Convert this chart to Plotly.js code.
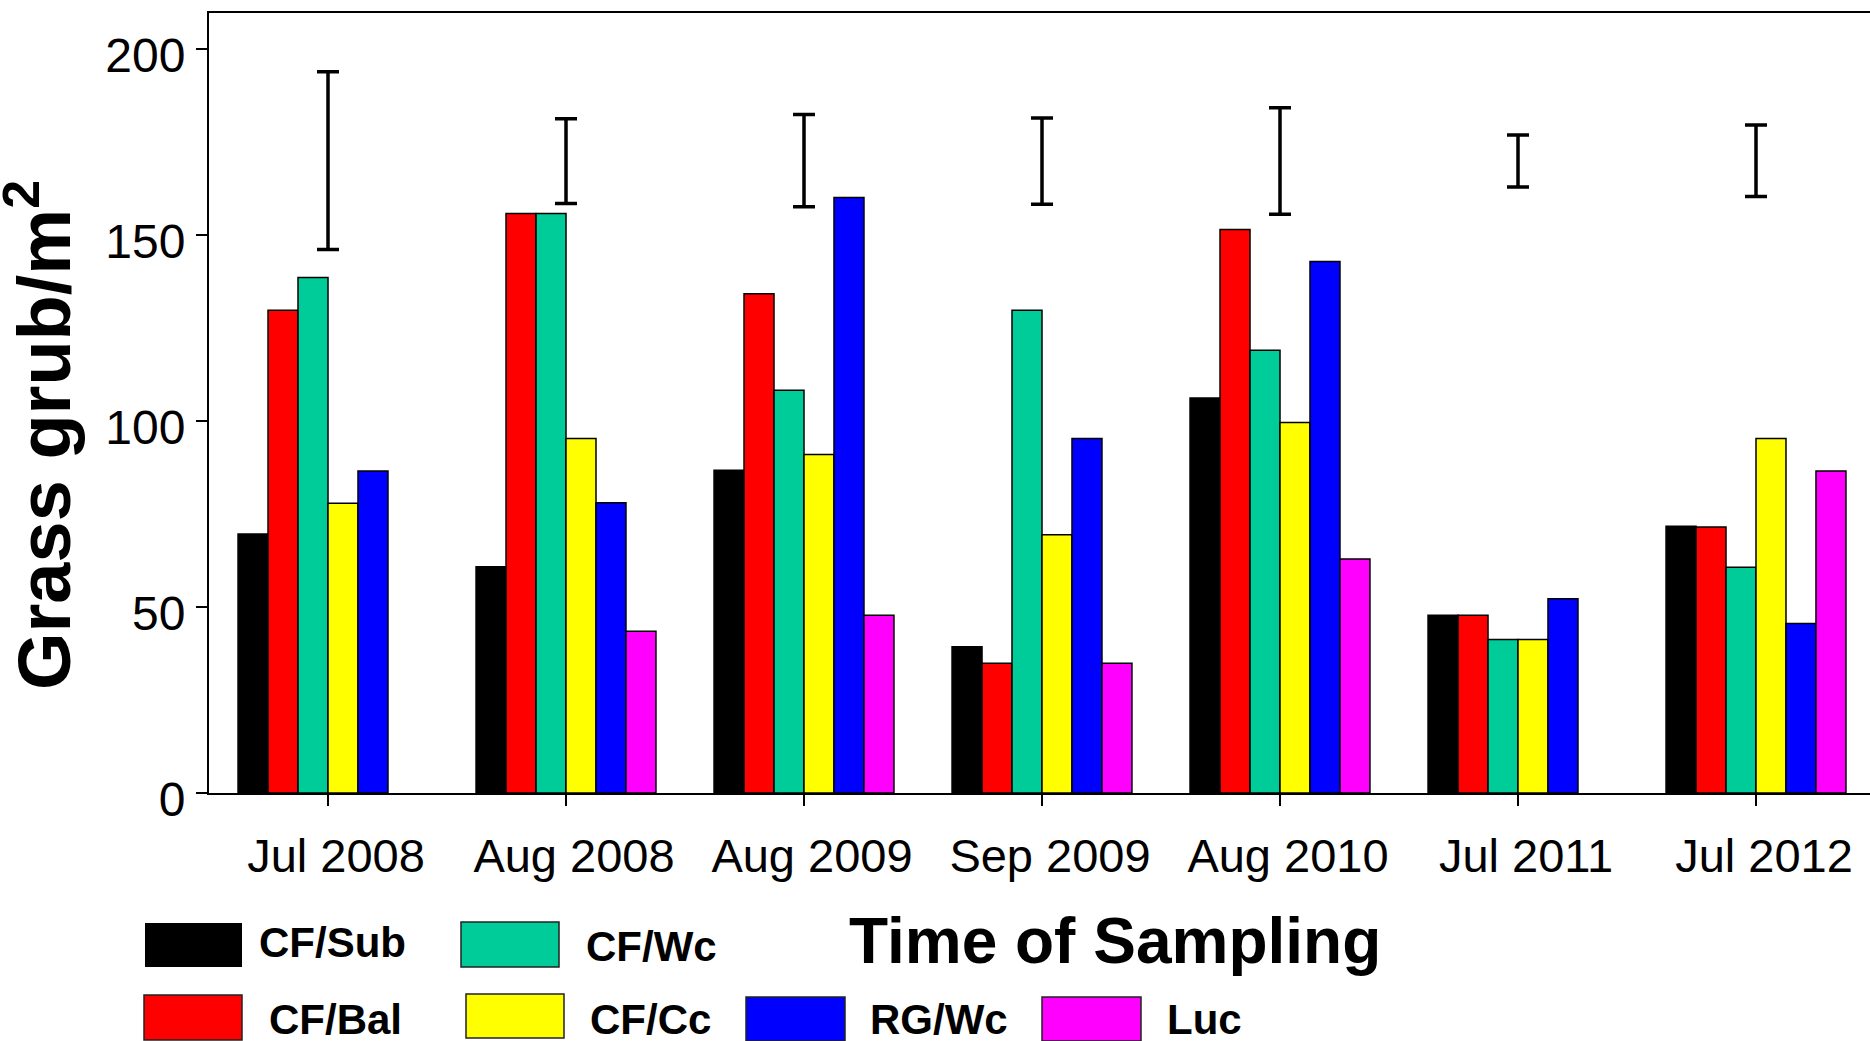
<!DOCTYPE html>
<html>
<head>
<meta charset="utf-8">
<script src="https://cdn.plot.ly/plotly-3.0.1.min.js"></script>
<style>html,body{margin:0;padding:0;background:#fff;}#chart{width:1870px;height:1041px;}</style>
</head>
<body>
<div id="chart"></div>
<script>
// ---- data ----
const categories = ['Jul 2008','Aug 2008','Aug 2009','Sep 2009','Aug 2010','Jul 2011','Jul 2012'];
const seriesNames = ['CF/Sub','CF/Bal','CF/Wc','CF/Cc','RG/Wc','Luc'];
const cfSub = [69.6, 60.8, 86.8, 39.3, 106.2, 47.8, 71.7];
const cfBal = [129.8, 155.8, 134.2, 34.9, 151.5, 47.8, 71.5];
const cfWc  = [138.6, 155.8, 108.3, 129.8, 119.0, 41.3, 60.7];
const cfCc  = [77.9, 95.3, 91.0, 69.4, 99.6, 41.3, 95.3];
const rgWc  = [86.6, 78.0, 160.1, 95.3, 142.9, 52.2, 45.6];
const luc   = [null, 43.5, 47.8, 34.9, 62.9, null, 86.6];
const lsdMid  = [170, 169.9, 170, 169.9, 169.9, 169.9, 170];
const lsdHalf = [23.9, 11.4, 12.4, 11.6, 14.3, 7.0, 9.6];
const yTickVals = [0, 50, 100, 150, 200];

// ---- styling ----
const colors = ['#000000','#ff0000','#00cc99','#ffff00','#0000ff','#ff00ff'];
const seriesValues = [cfSub, cfBal, cfWc, cfCc, rgWc, luc];
const FONT = '"Liberation Sans", Arial, Helvetica, sans-serif';

// plot area in pixels
const L = 209, T = 13, R = 1870, B = 793;
const pxX = x => (x - L) / (R - L);
const pxY = y => (B - y) / (B - T);

const traces = seriesValues.map((vals, i) => ({
  type: 'bar',
  name: seriesNames[i],
  x: categories,
  y: vals,
  marker: {color: colors[i], line: {color: '#000', width: 1.5}},
  showlegend: false,
  hoverinfo: 'x+y+name'
}));

traces.push({
  type: 'scatter',
  mode: 'markers',
  x: categories,
  y: lsdMid,
  marker: {size: 1, color: 'rgba(0,0,0,0)'},
  error_y: {type: 'data', array: lsdHalf, visible: true, color: '#000', thickness: 3.5, width: 11},
  showlegend: false,
  hoverinfo: 'skip'
});

// legend (custom, two rows) positions in pixels
const legendItems = [
  {i: 0, box: [145, 923, 242, 967], tx: 257, ty: 942},
  {i: 2, box: [461, 922, 559, 967], tx: 584, ty: 946},
  {i: 1, box: [144, 995, 242, 1040], tx: 267, ty: 1019},
  {i: 3, box: [466, 994, 564, 1038], tx: 588, ty: 1019},
  {i: 4, box: [746, 997, 845, 1041], tx: 868, ty: 1019},
  {i: 5, box: [1042, 997, 1141, 1041], tx: 1165, ty: 1019}
];
const shapes = [];
const annotations = [];
legendItems.forEach(it => {
  shapes.push({
    type: 'rect', xref: 'paper', yref: 'paper',
    x0: pxX(it.box[0]), x1: pxX(it.box[2]), y0: pxY(it.box[3]), y1: pxY(it.box[1]),
    fillcolor: colors[it.i], line: {color: '#222', width: it.i === 0 ? 0 : 1.5}
  });
  annotations.push({
    xref: 'paper', yref: 'paper', x: pxX(it.tx), y: pxY(it.ty),
    xanchor: 'left', yanchor: 'middle', showarrow: false,
    text: '<b>' + seriesNames[it.i] + '</b>',
    font: {family: FONT, size: 42, color: '#000'}
  });
});

// axis titles as annotations
annotations.push({
  xref: 'paper', yref: 'paper', x: pxX(39), y: pxY(435),
  xanchor: 'center', yanchor: 'middle', textangle: -90, showarrow: false,
  text: '<b>Grass grub/m<sup>2</sup></b>',
  font: {family: FONT, size: 74, color: '#000'}
});
annotations.push({
  xref: 'paper', yref: 'paper', x: pxX(1115), y: pxY(941),
  xanchor: 'center', yanchor: 'middle', showarrow: false,
  text: '<b>Time of Sampling</b>',
  font: {family: FONT, size: 64, color: '#000'}
});

const layout = {
  width: 1870, height: 1041,
  margin: {l: L, r: 1870 - R, t: T, b: 1041 - B, pad: 0},
  paper_bgcolor: '#fff', plot_bgcolor: '#fff',
  barmode: 'group', bargap: 0.244, bargroupgap: 0,
  showlegend: false,
  font: {family: FONT, color: '#000'},
  xaxis: {
    type: 'category',
    range: [-0.5, -0.5 + (R - L) / 238],
    showline: true, linecolor: '#000', linewidth: 2, mirror: true,
    ticks: 'outside', ticklen: 11, tickwidth: 2, tickcolor: '#000',
    tickfont: {family: FONT, size: 47, color: '#000'},
    ticklabelshift: 8, ticklabelstandoff: 10,
    showgrid: false, zeroline: false, fixedrange: true
  },
  yaxis: {
    range: [0, 209.7],
    tickvals: yTickVals,
    showline: true, linecolor: '#000', linewidth: 2,
    ticks: 'outside', ticklen: 11, tickwidth: 2, tickcolor: '#000',
    tickfont: {family: FONT, size: 48, color: '#000'},
    ticklabelstandoff: 1, ticklabelshift: 6,
    showgrid: false, zeroline: false, fixedrange: true
  },
  shapes: shapes,
  annotations: annotations
};

Plotly.newPlot('chart', traces, layout, {staticPlot: true, displayModeBar: false});
</script>
</body>
</html>
